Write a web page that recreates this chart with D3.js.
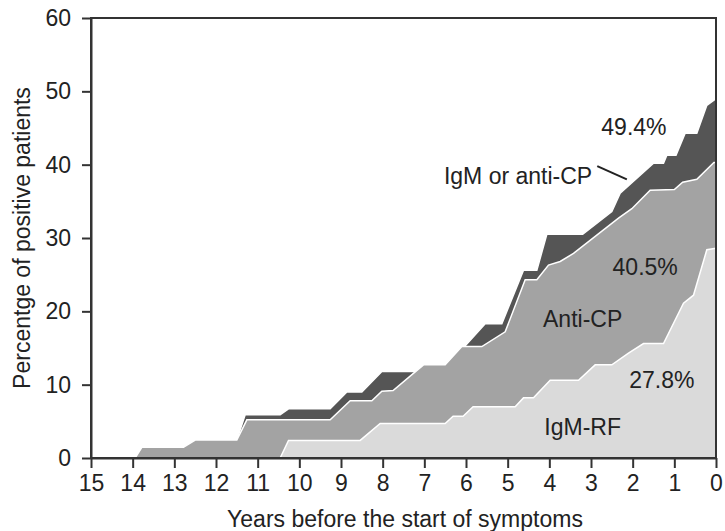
<!DOCTYPE html>
<html>
<head>
<meta charset="utf-8">
<script src="https://cdn.jsdelivr.net/npm/d3@7"></script>
<style>
  body { margin: 0; background: #fff; }
  svg text { font-family: "Liberation Sans", Arial, Helvetica, sans-serif; fill: #222; }
  .axis path, .axis line { stroke: #333; stroke-width: 2; }
  .axis text { font-size: 23px; }
</style>
</head>
<body>
<svg id="chart" width="725" height="531"></svg>
<script>
// tick values
var yearTicks = [15, 14, 13, 12, 11, 10, 9, 8, 7, 6, 5, 4, 3, 2, 1, 0];
var pctTicks = [0, 10, 20, 30, 40, 50, 60];

// top edge of each stacked band, [years before symptoms, % positive]
var igmOrAntiCP = [
  [15, 0], [13.94, 0], [13.78, 1.45], [12.78, 1.45], [12.5, 2.45], [11.5, 2.45],
  [11.3, 5.9], [10.46, 5.9], [10.26, 6.7], [9.26, 6.7], [8.86, 9.0], [8.5, 9.0],
  [8.02, 11.8], [7.22, 11.8], [7.02, 12.7], [6.5, 12.7], [6.1, 15.2], [6.02, 15.3],
  [5.54, 18.3], [5.14, 18.3], [4.62, 25.6], [4.3, 25.6], [4.06, 30.5], [3.2, 30.5],
  [2.5, 33.6], [2.3, 36.1], [1.5, 40.2], [1.26, 40.2], [1.18, 41.3], [0.96, 41.3],
  [0.74, 44.3], [0.46, 44.3], [0.22, 48.1], [0, 49.0]
];
var antiCP = [
  [15, 0], [13.94, 0], [13.78, 1.45], [12.78, 1.45], [12.5, 2.45], [11.5, 2.45],
  [11.26, 5.2], [9.26, 5.2], [8.78, 7.8], [8.26, 7.8], [8.02, 9.1], [7.75, 9.2],
  [7.02, 12.7], [6.5, 12.7], [6.1, 15.2], [5.62, 15.2], [5.06, 17.2], [4.58, 24.3],
  [4.3, 24.3], [4.02, 26.3], [3.74, 26.8], [3.42, 27.9], [2.34, 32.7], [2.02, 34.0],
  [1.58, 36.5], [1.0, 36.6], [0.8, 37.6], [0.46, 38.0], [0.05, 40.3], [0, 40.3]
];
var igmRF = [
  [15, 0], [10.46, 0], [10.26, 2.4], [8.54, 2.4], [8.06, 4.7], [6.5, 4.7],
  [6.31, 5.7], [6.07, 5.7], [5.83, 7.0], [4.82, 7.0], [4.62, 8.2], [4.38, 8.2],
  [3.98, 10.6], [3.3, 10.6], [2.9, 12.7], [2.5, 12.7], [2.1, 14.3], [1.74, 15.6],
  [1.26, 15.6], [0.78, 21.1], [0.54, 22.2], [0.22, 28.4], [0, 28.6]
];

var bands = [
  {name: "igmOrAntiCP", values: igmOrAntiCP, fill: "#555555"},
  {name: "antiCP", values: antiCP, fill: "#a3a3a3"},
  {name: "igmRF", values: igmRF, fill: "#dadada"}
];

var labels = [
  {text: "49.4%", x: 1.97, y: 44.0},
  {text: "IgM or anti-CP", x: 4.75, y: 37.3},
  {text: "40.5%", x: 1.7, y: 25.0},
  {text: "Anti-CP", x: 3.2, y: 17.8},
  {text: "27.8%", x: 1.3, y: 9.5},
  {text: "IgM-RF", x: 3.2, y: 3.1}
];

var svg = d3.select("#chart");
var x = d3.scaleLinear().domain([15, 0]).range([91, 716]);
var y = d3.scaleLinear().domain([0, 60]).range([458, 18]);

var area = d3.area()
  .x(function(d) { return x(d[0]); })
  .y0(y(0))
  .y1(function(d) { return y(d[1]); });
var line = d3.line()
  .x(function(d) { return x(d[0]); })
  .y(function(d) { return y(d[1]); });

bands.forEach(function(b) {
  svg.append("path")
    .datum(b.values)
    .attr("d", area)
    .attr("fill", b.fill);
  svg.append("path")
    .datum(b.values)
    .attr("d", line)
    .attr("fill", "none")
    .attr("stroke", "#fff")
    .attr("stroke-width", 1.5);
});

labels.forEach(function(l) {
  svg.append("text")
    .attr("x", x(l.x))
    .attr("y", y(l.y))
    .attr("text-anchor", "middle")
    .attr("font-size", 23)
    .text(l.text);
});

// leader line from the label to the dark band
svg.append("line")
  .attr("x1", x(2.85)).attr("y1", y(39.8))
  .attr("x2", x(2.14)).attr("y2", y(38.0))
  .attr("stroke", "#222")
  .attr("stroke-width", 2);

// frame
svg.append("rect")
  .attr("x", 91).attr("y", 18)
  .attr("width", 625).attr("height", 440)
  .attr("fill", "none")
  .attr("stroke", "#333")
  .attr("stroke-width", 2);

svg.append("g")
  .attr("class", "axis")
  .attr("transform", "translate(0,458)")
  .call(d3.axisBottom(x).tickValues(yearTicks).tickSize(10).tickPadding(7).tickSizeOuter(0));

svg.append("g")
  .attr("class", "axis")
  .attr("transform", "translate(91,0)")
  .call(d3.axisLeft(y).tickValues(pctTicks).tickSize(9).tickPadding(11).tickSizeOuter(0));

svg.append("text")
  .attr("x", 405).attr("y", 527)
  .attr("text-anchor", "middle")
  .attr("font-size", 23)
  .text("Years before the start of symptoms");

svg.append("text")
  .attr("transform", "translate(30,238) rotate(-90)")
  .attr("text-anchor", "middle")
  .attr("font-size", 23)
  .text("Percentge of positive patients");
</script>
</body>
</html>
